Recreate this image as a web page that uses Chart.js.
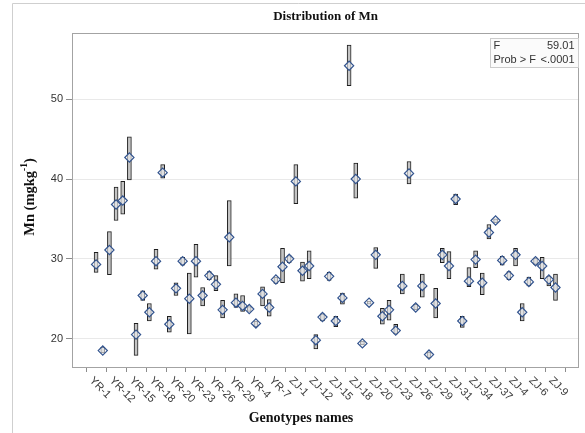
<!DOCTYPE html>
<html>
<head>
<meta charset="utf-8">
<script src="https://cdn.jsdelivr.net/npm/chart.js@4.4.1/dist/chart.umd.min.js"></script>
<style>
  html, body { margin: 0; padding: 0; background: #ffffff; }
  canvas { display: block; }
</style>
</head>
<body>
<canvas id="c" width="585" height="433"></canvas>
<script>
// Genotype names (alphabetical order, as grouped by the analysis)
const categories = [
  'YR-1','YR-10','YR-11','YR-12','YR-13','YR-14','YR-15','YR-16','YR-17','YR-18',
  'YR-19','YR-2','YR-20','YR-21','YR-22','YR-23','YR-24','YR-25','YR-26','YR-27',
  'YR-28','YR-29','YR-3','YR-30','YR-4','YR-5','YR-6','YR-7','YR-8','YR-9',
  'ZJ-1','ZJ-10','ZJ-11','ZJ-12','ZJ-13','ZJ-14','ZJ-15','ZJ-16','ZJ-17','ZJ-18',
  'ZJ-19','ZJ-2','ZJ-20','ZJ-21','ZJ-22','ZJ-23','ZJ-24','ZJ-25','ZJ-26','ZJ-27',
  'ZJ-28','ZJ-29','ZJ-3','ZJ-30','ZJ-31','ZJ-32','ZJ-33','ZJ-34','ZJ-35','ZJ-36',
  'ZJ-37','ZJ-38','ZJ-39','ZJ-4','ZJ-40','ZJ-5','ZJ-6','ZJ-7','ZJ-8','ZJ-9'
];

// Mean Mn content (mg/kg) per genotype
const meanMn = [
  29.3, 18.5, 31.1, 36.8, 37.3, 42.7, 20.5, 25.4, 23.3, 29.7,
  40.8, 21.8, 26.3, 29.7, 25.0, 29.7, 25.4, 27.9, 26.8, 23.6,
  32.7, 24.5, 24.1, 23.7, 21.9, 25.6, 23.9, 27.4, 29.0, 30.0,
  39.7, 28.5, 29.1, 19.8, 22.7, 27.8, 22.2, 25.1, 54.2, 40.0,
  19.4, 24.5, 30.5, 22.8, 23.6, 21.0, 26.6, 40.7, 23.9, 26.6,
  18.0, 24.4, 30.5, 29.1, 37.5, 22.2, 27.2, 29.9, 27.0, 33.3,
  34.8, 29.8, 27.9, 30.5, 23.3, 27.1, 29.7, 29.1, 27.4, 26.4
];

// Lower edge of each box
const boxLow = [
  28.3, 18.2, 28.0, 34.8, 35.6, 39.9, 17.9, 24.8, 22.2, 28.7,
  40.1, 20.8, 25.4, 29.2, 20.6, 27.7, 24.1, 27.4, 26.0, 22.6,
  29.1, 23.9, 23.4, 23.4, 21.5, 24.1, 22.8, 26.9, 27.0, 29.5,
  36.9, 27.2, 27.5, 18.7, 22.2, 27.3, 21.5, 24.3, 51.7, 37.6,
  19.2, 24.3, 28.8, 21.8, 22.3, 20.6, 25.6, 39.4, 23.6, 25.2,
  17.6, 22.6, 29.5, 27.5, 36.8, 21.4, 26.5, 28.9, 25.5, 32.5,
  34.5, 29.2, 27.4, 29.1, 22.2, 26.6, 29.3, 27.5, 26.6, 24.8
];

// Upper edge of each box
const boxHigh = [
  30.8, 18.9, 33.4, 39.0, 39.7, 45.3, 21.9, 26.0, 24.4, 31.2,
  41.8, 22.8, 27.0, 30.2, 28.2, 31.8, 26.4, 28.4, 27.9, 24.8,
  37.3, 25.6, 25.4, 24.0, 22.2, 26.5, 24.9, 27.7, 31.3, 30.4,
  41.8, 29.6, 31.0, 20.5, 23.1, 28.3, 22.8, 25.7, 56.8, 42.0,
  19.7, 24.7, 31.4, 23.8, 24.8, 21.8, 28.1, 42.2, 24.3, 28.1,
  18.3, 26.3, 31.3, 30.9, 38.1, 22.8, 28.9, 31.0, 28.2, 34.3,
  35.0, 30.3, 28.4, 31.3, 24.4, 27.7, 30.1, 30.2, 27.8, 28.1
];

// Axis ticks: every third genotype is labelled
const xTickStep = 3;
const yTicks = [20, 30, 40, 50];

// ANOVA summary shown in the inset
const statLabels = ['F', 'Prob > F'];
const statValues = ['59.01', '<.0001'];

const titleText = 'Distribution of Mn';
const xTitleText = 'Genotypes names';

const sans = "'Liberation Sans', Arial, sans-serif";
const serif = "'Liberation Serif', 'Times New Roman', serif";

const boxData = categories.map((n, i) => ({ x: i, y: [boxLow[i], boxHigh[i]] }));
const meanData = categories.map((n, i) => ({ x: i, y: meanMn[i] }));

const decorations = {
  id: 'decorations',
  beforeDatasetsDraw(chart) {
    const { ctx, chartArea: a } = chart;
    ctx.save();
    ctx.strokeStyle = '#a3a3a3';
    ctx.lineWidth = 1;
    ctx.strokeRect(Math.round(a.left) + 0.5, Math.round(a.top) + 0.5,
                   Math.round(a.right - a.left) - 1, Math.round(a.bottom - a.top));
    ctx.restore();
  },
  afterDraw(chart) {
    const { ctx, chartArea: a } = chart;
    const xs = chart.scales.x;
    ctx.save();

    // outer frame (left and top edges)
    ctx.strokeStyle = '#cfcfcf';
    ctx.lineWidth = 1;
    ctx.beginPath();
    ctx.moveTo(12.5, 433);
    ctx.lineTo(12.5, 3.5);
    ctx.lineTo(585, 3.5);
    ctx.stroke();

    // title
    ctx.fillStyle = '#111';
    ctx.font = 'bold 13px ' + serif;
    ctx.textAlign = 'center';
    ctx.textBaseline = 'middle';
    ctx.fillText(titleText, (a.left + a.right) / 2, 17);

    // x axis title
    ctx.font = 'bold 14px ' + serif;
    ctx.fillText(xTitleText, 301, 418);

    // y axis title with superscript
    ctx.save();
    ctx.translate(30, 197);
    ctx.rotate(-Math.PI / 2);
    const mainFont = 'bold 14.5px ' + serif;
    const supFont = 'bold 9.5px ' + serif;
    const parts = [
      { t: 'Mn (mgkg', f: mainFont, dy: 0 },
      { t: '-1', f: supFont, dy: -5 },
      { t: ')', f: mainFont, dy: 0 }
    ];
    let total = 0;
    parts.forEach(p => { ctx.font = p.f; p.w = ctx.measureText(p.t).width; total += p.w; });
    let cx = -total / 2;
    ctx.textAlign = 'left';
    ctx.textBaseline = 'middle';
    parts.forEach(p => { ctx.font = p.f; ctx.fillText(p.t, cx, p.dy); cx += p.w; });
    ctx.restore();

    // rotated x tick labels, reading downward to the right
    ctx.fillStyle = '#3a3a3a';
    ctx.font = '11px ' + sans;
    ctx.textAlign = 'left';
    ctx.textBaseline = 'top';
    xs.ticks.forEach(t => {
      const px = xs.getPixelForValue(t.value);
      ctx.save();
      ctx.translate(px - 1, a.bottom + 8);
      ctx.rotate(Math.PI / 4);
      ctx.fillText(categories[t.value], 0, 0);
      ctx.restore();
    });

    // inset with ANOVA statistics
    const bx = 490.5, by = 38.5, bw = 88, bh = 29;
    ctx.fillStyle = '#fbfbfb';
    ctx.fillRect(bx, by, bw, bh);
    ctx.strokeStyle = '#cccccc';
    ctx.strokeRect(bx, by, bw, bh);
    ctx.fillStyle = '#333';
    ctx.font = '11px ' + sans;
    ctx.textBaseline = 'middle';
    statLabels.forEach((lab, i) => {
      const y = by + 7 + i * 14.5;
      ctx.textAlign = 'left';
      ctx.fillText(lab, bx + 3, y);
      ctx.textAlign = 'right';
      ctx.fillText(statValues[i], bx + bw - 4, y);
    });

    ctx.restore();
  }
};

new Chart(document.getElementById('c'), {
  type: 'bar',
  data: {
    datasets: [
      {
        type: 'scatter',
        data: meanData,
        order: 0,
        pointStyle: 'rectRot',
        pointRadius: 4.6,
        pointBorderWidth: 1.2,
        borderColor: '#34558f',
        backgroundColor: 'rgba(246,248,252,0.55)'
      },
      {
        type: 'bar',
        data: boxData,
        order: 1,
        barThickness: 4,
        borderWidth: 1,
        borderSkipped: false,
        borderColor: '#1e1e1e',
        backgroundColor: '#c4c4c4'
      }
    ]
  },
  plugins: [decorations],
  options: {
    responsive: false,
    animation: false,
    devicePixelRatio: 1,
    layout: { padding: { left: 0, top: 33, right: 3, bottom: 0 } },
    plugins: {
      legend: { display: false },
      tooltip: { enabled: false },
      title: { display: false }
    },
    scales: {
      x: {
        type: 'linear',
        offset: false,
        min: -3.62,
        max: 72.56,
        afterBuildTicks(s) {
          const t = [];
          for (let i = 0; i < categories.length; i += xTickStep) t.push({ value: i });
          s.ticks = t;
        },
        afterFit(s) { s.height = 66; },
        ticks: { display: false },
        grid: {
          drawOnChartArea: false,
          drawTicks: true,
          tickLength: 5,
          tickColor: '#8c8c8c'
        },
        border: { display: false }
      },
      y: {
        type: 'linear',
        min: 16.44,
        max: 58.3,
        afterBuildTicks(s) { s.ticks = yTicks.map(v => ({ value: v })); },
        afterFit(s) { s.width = 72; },
        ticks: {
          font: { family: sans, size: 11 },
          color: '#333',
          padding: 3
        },
        grid: {
          color: '#e9e9e9',
          lineWidth: 1,
          drawTicks: true,
          tickLength: 6,
          tickColor: '#8c8c8c'
        },
        border: { display: false }
      }
    }
  }
});
</script>
</body>
</html>
